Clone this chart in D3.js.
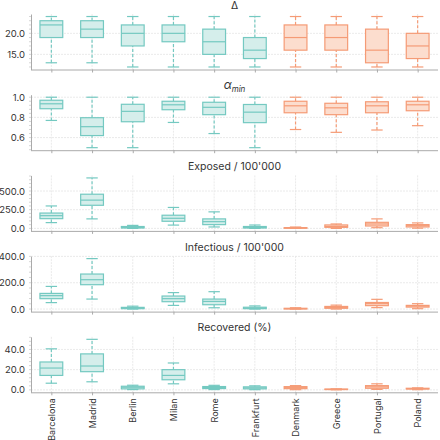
<!DOCTYPE html>
<html>
<head>
<meta charset="utf-8">
<script src="https://cdn.jsdelivr.net/npm/d3@7"></script>
<style>
  html, body { margin: 0; padding: 0; background: #fff; }
  svg { display: block; }
  text { font-family: Inter, "Liberation Sans", Arial, sans-serif; fill: #333; }
</style>
</head>
<body>
<div id="chart"></div>
<script>
// ---- data: [lower whisker, Q1, median, Q3, upper whisker] ----
const categories = ["Barcelona","Madrid","Berlin","Milan","Rome","Frankfurt","Denmark","Greece","Portugal","Poland"];
const groups = ["city","city","city","city","city","city","country","country","country","country"];

const delta = [
  [13,19,22,23,24],[13,19,21,23,24],[12,17,20,22,24],[12,18,20,22,24],[12,15,18,21,24],
  [12,14,16,19,24],[12,16,19,22,24],[12,16,19,22,24],[12,13,16,21,24],[12,14,17,20,24]
];
const alphaMin = [
  [0.77,0.886,0.935,0.97,1.0],[0.5,0.62,0.708,0.797,1.0],[0.5,0.757,0.86,0.93,1.0],
  [0.75,0.876,0.925,0.96,1.0],[0.64,0.827,0.9,0.95,1.0],[0.5,0.748,0.852,0.928,1.0],
  [0.68,0.846,0.915,0.96,1.0],[0.652,0.827,0.895,0.94,1.0],[0.675,0.846,0.915,0.955,1.0],
  [0.718,0.866,0.925,0.96,1.0]
];
const exposed = [
  [77,130,170,205,300],[127,309,378,457,675],[0,5,12,25,40],[44,95,135,176,280],[19,50,90,127,221],
  [0,5,12,25,45],[0,2,5,10,18],[0,14,25,46,59],[9,32,59,81,127],[3,19,36,50,73]
];
const infectious = [
  [49,79,102,119,172],[76,185,223,266,383],[0,3,7,13,22],[28,56,79,99,125],[10,33,58,76,132],
  [0,3,7,14,24],[0,1,3,6,10],[0,6,12,20,30],[11,26,41,50,74],[3,15,23,28,41]
];
const recovered = [
  [6.6,14.3,21.6,27.6,40.6],[8,18,23.6,35.6,50],[0.3,1,2.6,3.6,4.6],[6,10,14.3,20,26.6],
  [0.3,1.3,2.3,3.3,4.5],[0.2,1,2,3,4],[0.2,1.2,2.2,3.2,4.2],[0.1,0.3,0.5,0.8,1],
  [0.5,1.6,3,4.2,6],[0.2,0.8,1.2,1.6,2]
];

const deltaTicks = [15,20];
const alphaTicks = [0.6,0.8,1.0];
const exposedTicks = [0,250,500];
const infectiousTicks = [0,200,400];
const recoveredTicks = [0,20,40];

const panels = [
  {title: "Δ", data: delta, ticks: deltaTicks},
  {title: "alpha", data: alphaMin, ticks: alphaTicks},
  {title: "Exposed / 100'000", data: exposed, ticks: exposedTicks},
  {title: "Infectious / 100'000", data: infectious, ticks: infectiousTicks},
  {title: "Recovered (%)", data: recovered, ticks: recoveredTicks}
];

// ---- layout ----
const W = 440, H = 440;
const left = 31, right = 438;
const panelTop0 = 14, panelH = 55.5, panelStep = 80.7;
const FONT = "Inter, Liberation Sans, Arial, sans-serif";
const colors = {
  city: {stroke: "#74c9c1", fill: "#d5eeeb"},
  country: {stroke: "#f59b76", fill: "#fcddce"}
};

const svg = d3.select("#chart").append("svg").attr("width", W).attr("height", H);

const x = d3.scalePoint().domain(categories).range([left, right]).padding(0.5);
const step = x.step();
const boxW = step * 0.56;
const capW = boxW * 0.5;

panels.forEach((p, i) => {
  const top = panelTop0 + i * panelStep;
  const bottom = top + panelH;
  const lo = d3.min(p.data, d => d[0]);
  const hi = d3.max(p.data, d => d[4]);
  const m = (hi - lo) * 0.05;
  const y = d3.scaleLinear().domain([lo - m, hi + m]).range([bottom, top]);
  const g = svg.append("g");

  // grid
  g.selectAll(".hg").data(p.ticks).join("line")
    .attr("x1", left).attr("x2", right)
    .attr("y1", d => y(d)).attr("y2", d => y(d))
    .attr("stroke", "#e4e4e4").attr("stroke-width", 0.8).attr("stroke-dasharray", "2,1");
  g.selectAll(".vg").data(categories).join("line")
    .attr("x1", d => x(d)).attr("x2", d => x(d))
    .attr("y1", top).attr("y2", bottom)
    .attr("stroke", "#e4e4e4").attr("stroke-width", 0.8).attr("stroke-dasharray", "2,1");

  // y axis
  const yAxis = d3.axisLeft(y).tickValues(p.ticks).tickFormat(d3.format(".1f")).tickSize(0).tickPadding(6);
  const ya = g.append("g").attr("transform", `translate(${left},0)`).call(yAxis);
  ya.select(".domain").attr("stroke", "#aaa");
  ya.selectAll("text").attr("font-size", 9.5).attr("fill", "#333").attr("font-family", FONT);
  // minor ticks
  const tstep = p.ticks[1] - p.ticks[0];
  const minor = d3.range(Math.ceil((lo - m) / (tstep / 5)) * (tstep / 5), hi + m, tstep / 5);
  g.selectAll(".mt").data(minor).join("line")
    .attr("x1", left - 2).attr("x2", left)
    .attr("y1", d => y(d)).attr("y2", d => y(d))
    .attr("stroke", "#bbb").attr("stroke-width", 0.6);

  // x axis
  const xAxis = d3.axisBottom(x).tickSize(3).tickFormat(i === panels.length - 1 ? (d => d) : "");
  const xa = g.append("g").attr("transform", `translate(0,${bottom})`).call(xAxis);
  xa.select(".domain").attr("stroke", "#aaa").attr("d", `M${left},0.5H${right}`);
  xa.selectAll(".tick line").attr("stroke", "#aaa");
  if (i === panels.length - 1) {
    xa.selectAll("text")
      .attr("transform", "rotate(-90)")
      .attr("text-anchor", "end")
      .attr("x", -6).attr("y", 0).attr("dy", "0.35em")
      .attr("font-size", 9).attr("fill", "#333").attr("font-family", FONT);
  }

  // title
  const t = svg.append("text").attr("x", (left + right) / 2).attr("y", top - 5.5)
    .attr("text-anchor", "middle").attr("font-size", 10.5).attr("fill", "#333").attr("font-family", FONT);
  if (p.title === "alpha") {
    t.append("tspan").attr("font-style", "italic").attr("font-size", 12).text("α");
    t.append("tspan").attr("font-style", "italic").attr("font-size", 8).attr("dy", 2.5).text("min");
  } else {
    t.text(p.title);
  }

  // boxes
  const bg = g.selectAll(".box").data(p.data).join("g")
    .attr("transform", (d, j) => `translate(${x(categories[j])},0)`);
  bg.each(function(d, j) {
    const c = colors[groups[j]];
    const s = d3.select(this);
    // whiskers
    s.append("line").attr("x1", 0).attr("x2", 0).attr("y1", y(d[0])).attr("y2", y(d[1]))
      .attr("stroke", c.stroke).attr("stroke-width", 1.2).attr("stroke-dasharray", "3,2");
    s.append("line").attr("x1", 0).attr("x2", 0).attr("y1", y(d[3])).attr("y2", y(d[4]))
      .attr("stroke", c.stroke).attr("stroke-width", 1.2).attr("stroke-dasharray", "3,2");
    // caps
    [d[0], d[4]].forEach(v => {
      s.append("line").attr("x1", -capW / 2).attr("x2", capW / 2).attr("y1", y(v)).attr("y2", y(v))
        .attr("stroke", c.stroke).attr("stroke-width", 1.2);
    });
    // box
    s.append("rect").attr("x", -boxW / 2).attr("width", boxW)
      .attr("y", y(d[3])).attr("height", Math.max(0.5, y(d[1]) - y(d[3])))
      .attr("fill", c.fill).attr("stroke", c.stroke).attr("stroke-width", 1.2);
    // median
    s.append("line").attr("x1", -boxW / 2).attr("x2", boxW / 2).attr("y1", y(d[2])).attr("y2", y(d[2]))
      .attr("stroke", c.stroke).attr("stroke-width", 1.2);
  });
});
</script>
</body>
</html>
